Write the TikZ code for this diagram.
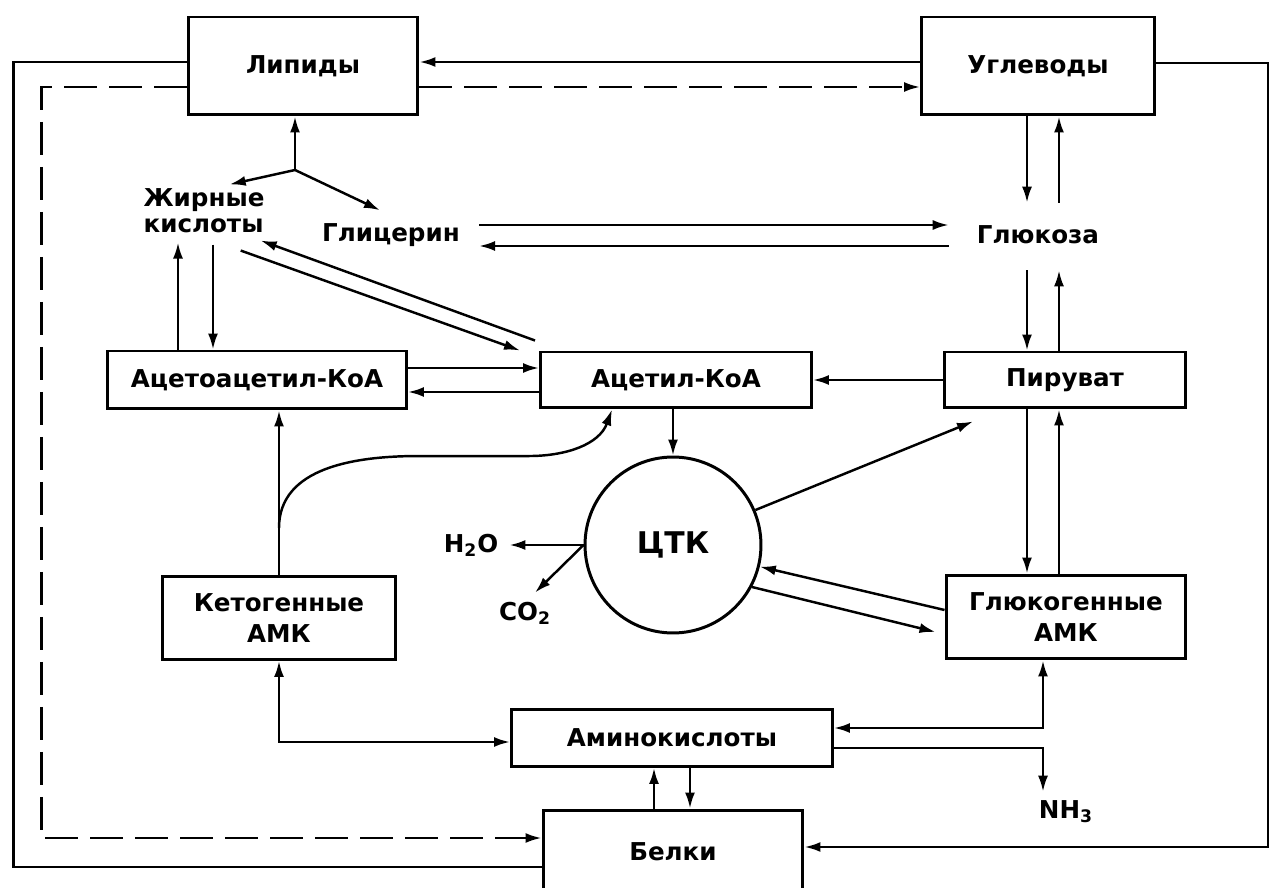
\documentclass[tikz,border=0pt]{standalone}
\usepackage{fontspec}
\setmainfont{DejaVu Sans}
\usetikzlibrary{arrows.meta}

\begin{document}
\begin{tikzpicture}[x=0.02cm,y=-0.02cm,line width=1.4pt,
        font=\fontsize{14}{15}\selectfont\bfseries,
        blok/.style={draw,line width=1.7pt,inner sep=0pt,align=center,
            font=\fontsize{14}{17.5}\selectfont\bfseries},
        slovo/.style={inner sep=0pt},
        arr/.style={-{Latex[length=3.2mm,width=2mm]}},
        arr2/.style={{Latex[length=3.2mm,width=2mm]}-{Latex[length=3.2mm,width=2mm]}},
        punktir/.style={dash pattern=on 0.66cm off 0.24cm}]
    \useasboundingbox (0,0) rectangle (1272,888);

    \node[blok,minimum width=4.6cm,minimum height=1.96cm] (lipidy) at (303,66) {Липиды};
    \node[blok,minimum width=4.66cm,minimum height=1.96cm] (uglevody) at (1038,66) {Углеводы};
    \node[blok,minimum width=5.98cm,minimum height=1.16cm] (acetoacetil) at (257,380) {Ацетоацетил-КоА};
    \node[blok,minimum width=5.42cm,minimum height=1.12cm] (acetil) at (676,380) {Ацетил-КоА};
    \node[blok,minimum width=4.82cm,minimum height=1.12cm] (piruvat) at (1065,380) {Пируват};
    \node[blok,minimum width=4.66cm,minimum height=1.66cm] (ketogen) at (279,618) {Кетогенные\\АМК};
    \node[blok,minimum width=4.8cm,minimum height=1.68cm] (glukogen) at (1066,617) {Глюкогенные\\АМК};
    \node[blok,minimum width=6.42cm,minimum height=1.14cm] (aminokisl) at (672,738) {Аминокислоты};
    \node[blok,minimum width=5.2cm,minimum height=1.68cm] (belki) at (673,852) {Белки};
    \node[blok,circle,minimum size=3.52cm,font=\fontsize{17}{18}\selectfont\bfseries] (tck) at (673,545) {ЦТК};

    \node[slovo,align=left] (zhirnye) at (204,211) {Жирные\\кислоты};
    \node[slovo] (glicerin) at (391,235) {Глицерин};
    \node[slovo] (glukoza) at (1038,235) {Глюкоза};
    \node[slovo] (voda) at (471,545) {H\textsubscript{2}O};
    \node[slovo] (co2) at (525,613) {CO\textsubscript{2}};
    \node[slovo] (nh3) at (1066,812) {NH\textsubscript{3}};
    \coordinate (razvilka) at (295,170);

    \draw[arr] ([yshift=0.08cm]uglevody.west) -- ([yshift=0.08cm]lipidy.east);
    \draw[arr,punktir] ([yshift=-0.42cm]lipidy.west -| lipidy.east) -- ([yshift=-0.42cm]uglevody.west);
    \draw ([yshift=0.08cm]lipidy.west) -- ++(-173,0) |- ([yshift=-0.3cm]belki.west);
    \draw[arr,punktir] ([yshift=-0.42cm]lipidy.west) -- ++(-145,0) |- ([yshift=0.28cm]belki.west);
    \draw[arr] ([yshift=0.06cm]uglevody.east) -- ++(112,0) |- ([yshift=0.1cm]belki.east);

    \draw[arr] (razvilka) -- (razvilka |- lipidy.south);
    \draw[arr] (razvilka) -- ([xshift=-0.72cm,yshift=0.06cm]zhirnye.north east);
    \draw[arr] (razvilka) -- ([xshift=-0.22cm,yshift=0.24cm]glicerin.north);
    \draw[arr] ([xshift=0.36cm,yshift=0.2cm]glicerin.east) -- ([xshift=-0.54cm,yshift=0.2cm]glukoza.west);
    \draw[arr] ([xshift=-0.54cm,yshift=-0.22cm]glukoza.west) -- ([xshift=0.36cm,yshift=-0.22cm]glicerin.east);

    \draw[arr] ([xshift=-0.22cm]uglevody.south) -- ([xshift=-0.22cm,yshift=0.44cm]glukoza.north);
    \draw[arr] ([xshift=0.42cm,yshift=0.44cm]glukoza.north) -- ([xshift=0.42cm]uglevody.south);
    \draw[arr] ([xshift=-0.22cm,yshift=-0.5cm]glukoza.south) -- ([xshift=-0.22cm]glukoza.south |- piruvat.north);
    \draw[arr] ([xshift=0.42cm]glukoza.south |- piruvat.north) -- ([xshift=0.42cm,yshift=-0.5cm]glukoza.south);
    \draw[arr] ([xshift=-0.22cm]glukoza.south |- piruvat.south) -- ([xshift=-0.22cm]glukoza.south |- glukogen.north);
    \draw[arr] ([xshift=0.42cm]glukoza.south |- glukogen.north) -- ([xshift=0.42cm]glukoza.south |- piruvat.south);

    \draw[arr] ([xshift=-0.52cm]zhirnye.south |- acetoacetil.north) -- ([xshift=-0.52cm,yshift=-0.16cm]zhirnye.south);
    \draw[arr] ([xshift=0.18cm,yshift=-0.2cm]zhirnye.south) -- ([xshift=0.18cm]zhirnye.south |- acetoacetil.north);
    \draw[arr] ([xshift=-0.08cm,yshift=0.2cm]acetil.north west) -- ([xshift=-0.1cm,yshift=-0.12cm]zhirnye.south east);
    \draw[arr] ([xshift=-0.5cm,yshift=-0.32cm]zhirnye.south east) -- ([xshift=-0.38cm]acetil.north west);
    \draw[arr] ([yshift=0.24cm]acetoacetil.east) -- ([yshift=0.24cm]acetil.west);
    \draw[arr] ([yshift=-0.24cm]acetil.west) -- ([yshift=-0.24cm]acetoacetil.east);
    \draw[arr] (piruvat.west) -- (acetil.east);
    \draw[arr] (tck.north |- acetil.south) -- (tck.north);

    \draw[arr] (tck.23) -- ([xshift=0.6cm,yshift=-0.24cm]piruvat.south west);
    \draw[arr] ([yshift=0.14cm]glukogen.west) -- (tck.-14);
    \draw[arr] (tck.-28) -- ([xshift=-0.18cm,yshift=-0.3cm]glukogen.west);
    \draw[arr] (tck.west) -- ([xshift=0.2cm]voda.east);
    \draw[arr] (tck.west) -- ([xshift=0.2cm,yshift=0.16cm]co2.north);

    \draw[arr] (ketogen.north) -- (ketogen.north |- acetoacetil.south);
    \draw[arr] ([yshift=0.94cm]ketogen.north) to[out=90,in=180] ++(140,-72) -- ++(110,0)
        to[out=0,in=250] ([xshift=-1.28cm]acetil.south);

    \draw[arr2] (ketogen.south) |- ([yshift=-0.08cm]aminokisl.west);
    \draw[arr2] ([yshift=0.2cm]aminokisl.east) -| ([xshift=-0.46cm]glukogen.south);
    \draw[arr] ([yshift=-0.2cm]aminokisl.east) -| ([xshift=-0.46cm,yshift=0.16cm]nh3.north);
    \draw[arr] ([xshift=-0.38cm]belki.north) -- ([xshift=-0.38cm]belki.north |- aminokisl.south);
    \draw[arr] ([xshift=0.34cm]belki.north |- aminokisl.south) -- ([xshift=0.34cm]belki.north);
\end{tikzpicture}
\end{document}
